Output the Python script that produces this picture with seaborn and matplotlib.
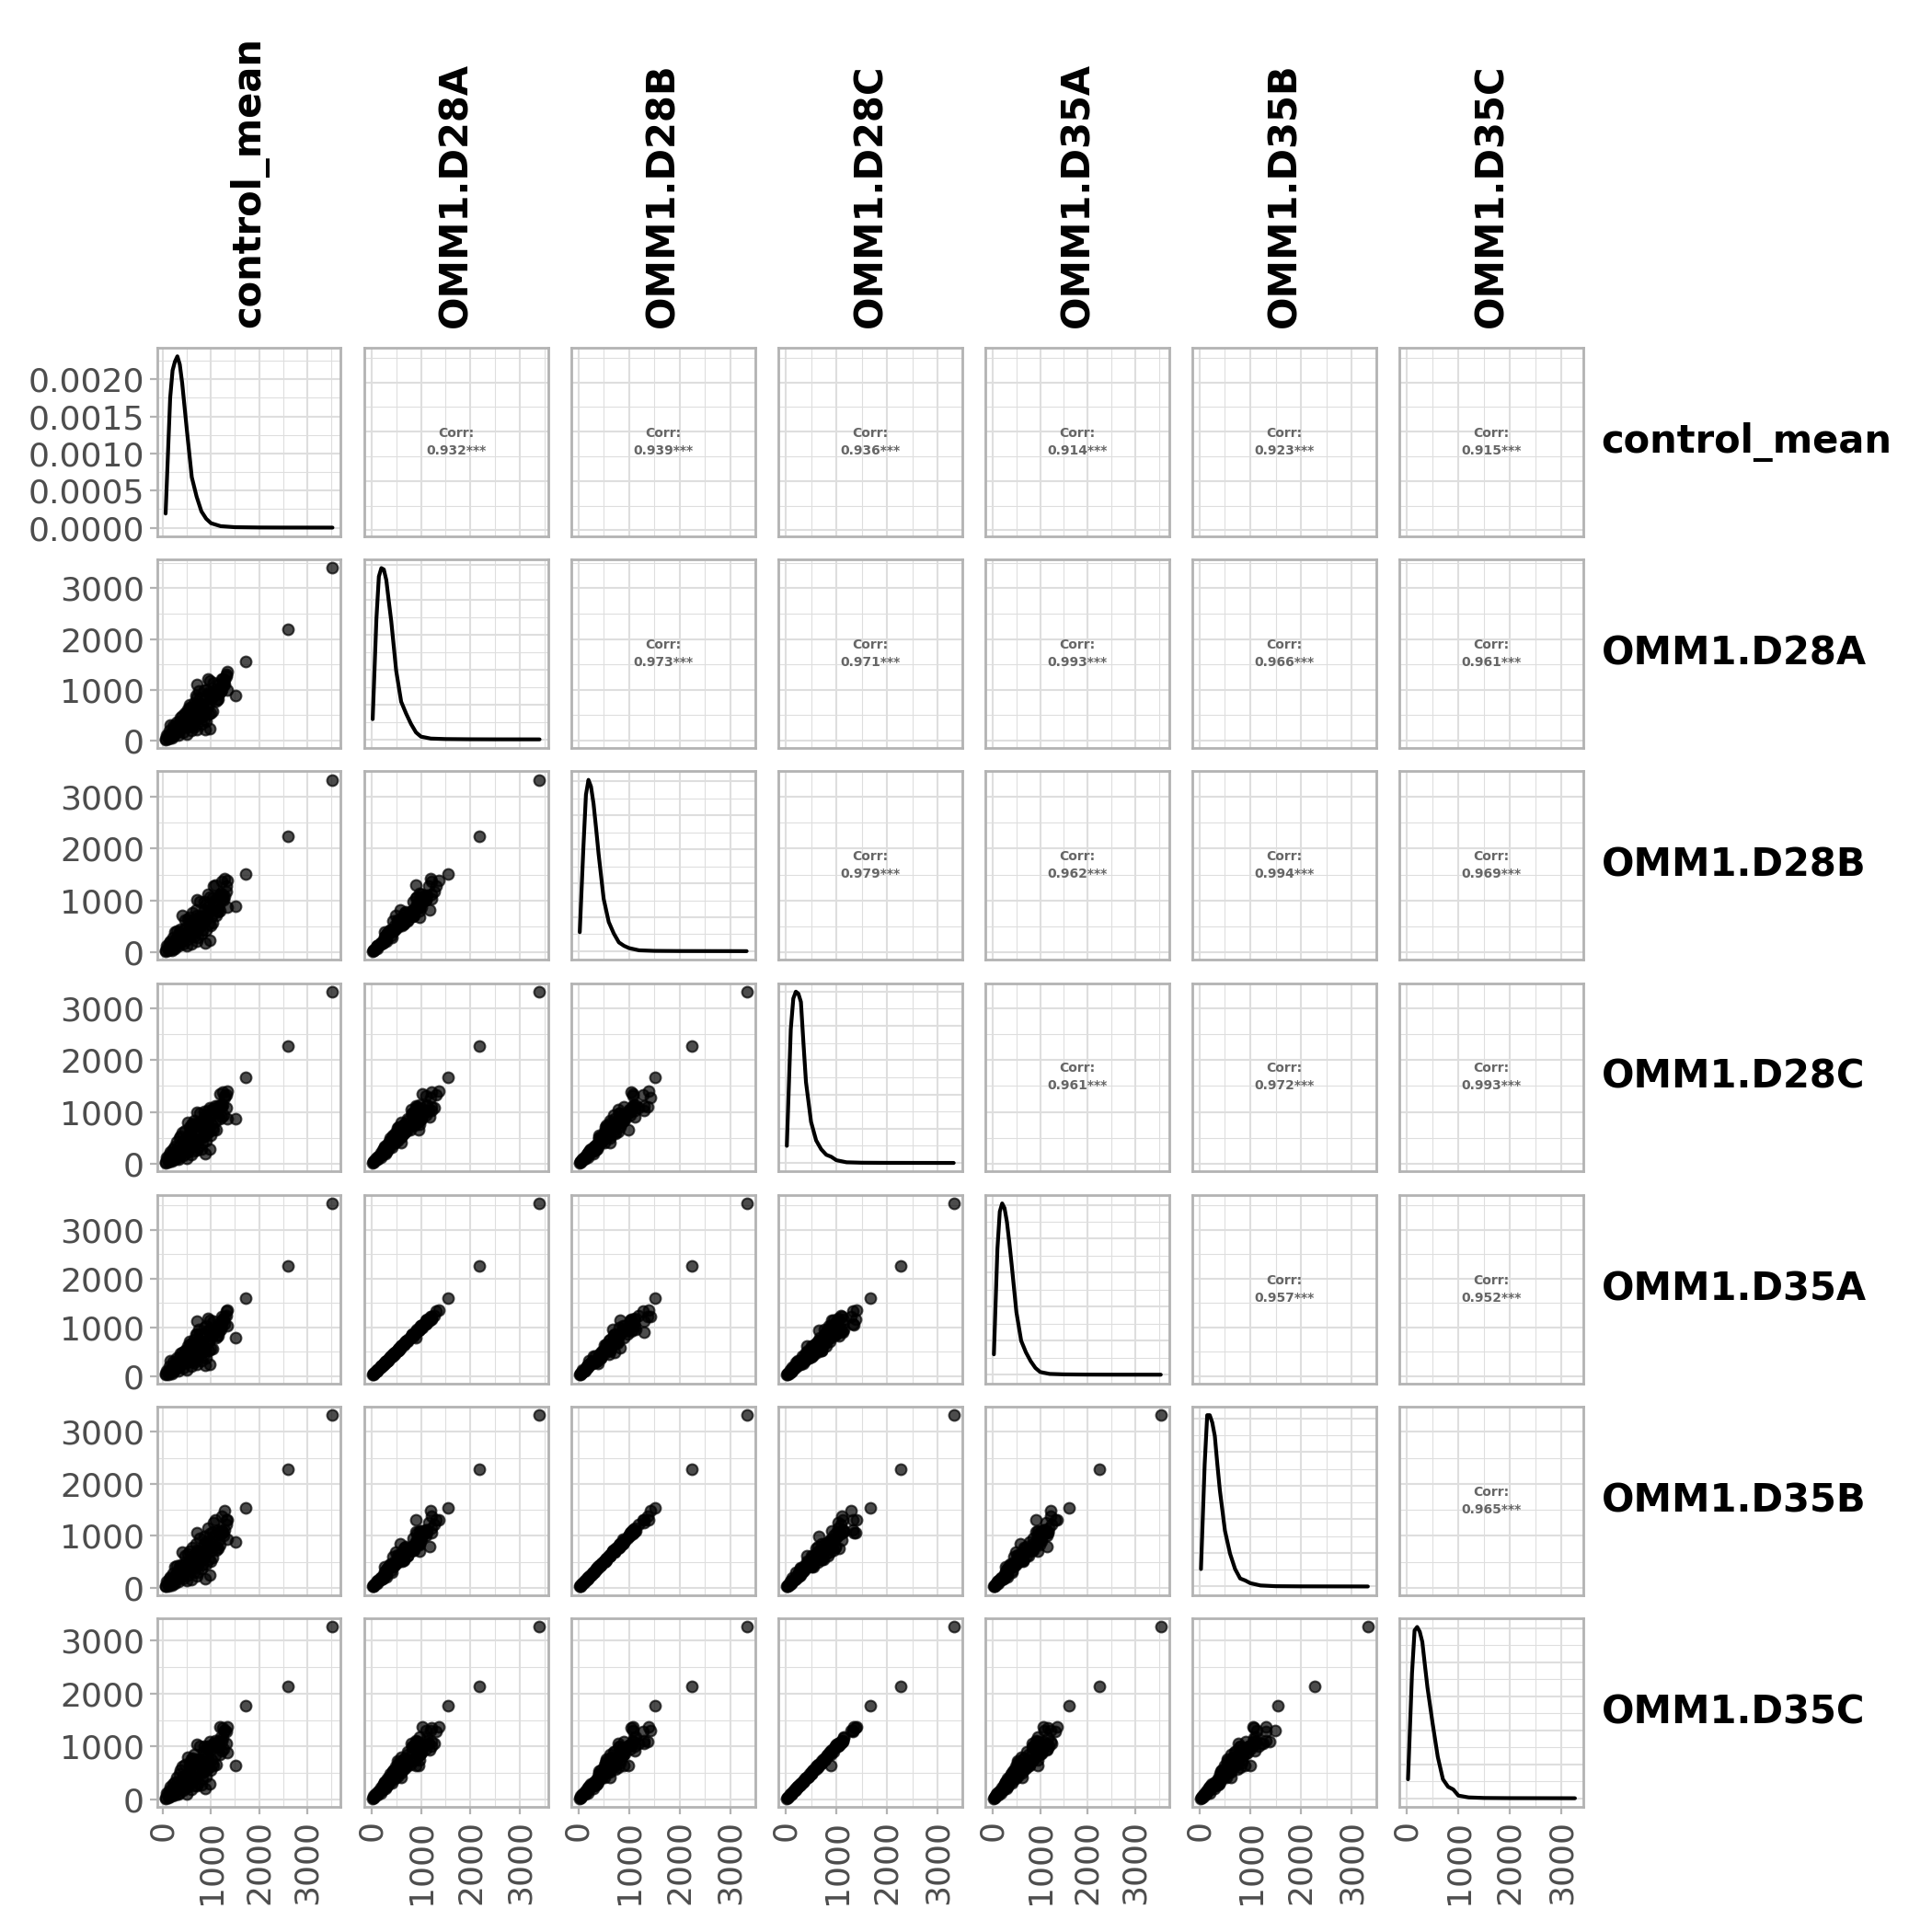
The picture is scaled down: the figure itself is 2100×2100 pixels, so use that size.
import numpy as np
import pandas as pd
import matplotlib
matplotlib.use('Agg')
import matplotlib.pyplot as plt
from matplotlib.ticker import MultipleLocator, FormatStrFormatter
import seaborn as sns

variables = ['control_mean', 'OMM1.D28A', 'OMM1.D28B', 'OMM1.D28C',
             'OMM1.D35A', 'OMM1.D35B', 'OMM1.D35C']

control_mean = [60, 70, 130, 140, 200, 210, 260, 280, 330, 350,
                370, 420, 440, 450, 500, 520, 540, 560, 600, 620,
                650, 680, 700, 720, 740, 760, 800, 820, 840, 860,
                880, 900, 920, 940, 980, 1000, 1020, 1040, 1060, 1100,
                1120, 1150, 1180, 1200, 1230, 1260, 1290, 1310,
                705, 610, 55, 930,
                100, 170, 240, 300, 390, 470, 580, 660, 760, 870,
                960, 1080, 1160, 1250, 390, 560, 640, 830, 1000, 1100,
                300, 480, 600, 900, 1040, 800, 560, 420, 1220, 1320,
                200, 120, 700, 980,
                150, 250, 350, 450, 550, 650, 750, 850, 950, 1050,
                1150, 1250, 250, 400, 520, 680, 780, 880, 980, 1080,
                1180, 330, 180, 600, 720, 860,
                3530, 2595, 1725, 1515, 1340, 1345, 1273]
d28a = [44, 108, 60, 205, 85, 290, 198, 360, 110, 302,
        451, 170, 396, 540, 120, 281, 423, 700, 198, 315,
        560, 886, 226, 460, 726, 837, 320, 605, 733, 1000,
        220, 378, 660, 950, 244, 540, 836, 900, 1150, 778,
        818, 1100, 968, 972, 1220, 1102, 1109, 1300,
        1100, 666, 25, 1210,
        94, 140, 264, 270, 330, 518, 526, 420, 616, 531,
        700, 950, 921, 1120, 242, 297, 280, 475, 827, 1020,
        220, 324, 460, 994, 583, 700, 660, 378, 1000, 1274,
        188, 40, 858, 918,
        305, 271, 380, 288, 425, 735, 976, 574, 532, 943,
        808, 1208, 122, 492, 608, 598, 544, 819, 1171, 902,
        1026, 184, 51, 651, 415, 426,
        3395, 2185, 1553, 890, 1000, 1362, 1203]
d28b = [37, 126, 67, 190, 83, 284, 166, 420, 123, 280,
        442, 167, 331, 630, 134, 260, 414, 686, 166, 368,
        627, 820, 221, 451, 607, 977, 358, 560, 718, 980,
        184, 441, 739, 880, 239, 529, 699, 1050, 1288, 720,
        800, 1078, 810, 1134, 1366, 1020, 1086, 1274,
        1020, 777, 28, 1120,
        92, 137, 221, 315, 370, 480, 515, 412, 515, 620,
        784, 880, 902, 1098, 202, 347, 314, 440, 810, 1000,
        184, 378, 515, 920, 570, 686, 552, 441, 1120, 1180,
        184, 39, 718, 1071,
        213, 389, 400, 300, 410, 630, 680, 826, 560, 984,
        779, 1035, 85, 708, 640, 624, 525, 702, 816, 1298,
        1080, 192, 49, 558, 289, 614,
        3321, 2245, 1513, 898, 873, 1387, 1420]
d28c = [40, 127, 54, 175, 101, 296, 180, 424, 99, 258,
        538, 173, 360, 636, 108, 239, 504, 714, 180, 371,
        504, 754, 269, 469, 660, 986, 288, 515, 874, 1020,
        200, 445, 594, 810, 291, 551, 760, 1060, 1035, 662,
        974, 1122, 880, 1145, 1098, 938, 1322, 1326,
        990, 784, 22, 1030,
        112, 143, 240, 318, 297, 442, 627, 428, 560, 625,
        630, 810, 1098, 1142, 220, 350, 252, 405, 986, 1040,
        200, 382, 414, 846, 694, 714, 600, 445, 900, 1086,
        224, 41, 780, 1081,
        238, 337, 500, 200, 550, 840, 760, 714, 700, 656,
        1045, 1380, 95, 612, 800, 416, 704, 936, 912, 1122,
        1350, 128, 66, 744, 323, 530,
        3315, 2275, 1670, 880, 880, 1400, 1280]
d35a = [45, 105, 61, 201, 85, 299, 192, 367, 108, 302,
        465, 165, 404, 529, 120, 289, 410, 714, 194, 315,
        577, 859, 231, 451, 726, 862, 310, 617, 718, 1000,
        227, 367, 673, 931, 244, 556, 811, 918, 1127, 778,
        843, 1067, 987, 953, 1220, 1135, 1076, 1326,
        1125, 666, 26, 1174,
        96, 137, 264, 278, 320, 528, 515, 420, 634, 515,
        714, 931, 921, 1154, 235, 303, 274, 475, 852, 989,
        224, 318, 460, 1024, 566, 714, 647, 378, 1030, 1236,
        192, 39, 858, 946,
        314, 263, 388, 282, 425, 757, 947, 585, 521, 943,
        832, 1172, 124, 482, 608, 616, 528, 835, 1148, 902,
        1057, 178, 52, 638, 415, 439,
        3540, 2255, 1605, 778, 1035, 1347, 1220]
d35b = [36, 130, 68, 184, 84, 278, 171, 428, 119, 283,
        433, 172, 338, 611, 135, 255, 426, 700, 161, 372,
        614, 845, 225, 437, 613, 957, 369, 571, 696, 990,
        180, 454, 754, 854, 241, 518, 720, 1071, 1249, 727,
        784, 1110, 826, 1100, 1380, 1000, 1119, 1299,
        1060, 785, 27, 1154,
        94, 133, 223, 309, 381, 490, 500, 416, 505, 639,
        800, 854, 911, 1076, 208, 354, 305, 444, 794, 1030,
        188, 367, 520, 902, 587, 700, 535, 445, 1098, 1215,
        188, 38, 725, 1050,
        209, 401, 408, 291, 414, 617, 700, 843, 543, 994,
        763, 1066, 87, 687, 646, 612, 541, 716, 792, 1311,
        1058, 198, 50, 541, 292, 602,
        3318, 2272, 1543, 883, 942, 1300, 1487]
d35c = [41, 124, 52, 180, 100, 302, 176, 411, 102, 255,
        549, 170, 349, 655, 107, 244, 494, 693, 185, 367,
        514, 739, 261, 483, 653, 1006, 282, 500, 900, 1010,
        204, 436, 576, 834, 288, 562, 745, 1028, 1066, 655,
        993, 1100, 854, 1179, 1087, 957, 1296, 1286,
        1051, 776, 23, 1009,
        109, 147, 238, 324, 291, 429, 646, 424, 571, 613,
        611, 834, 1087, 1165, 216, 340, 260, 401, 1006, 1019,
        194, 393, 410, 863, 680, 693, 618, 441, 918, 1064,
        217, 42, 772, 1103,
        243, 330, 485, 206, 545, 857, 745, 693, 721, 649,
        1066, 1352, 92, 630, 792, 424, 690, 908, 939, 1111,
        1377, 125, 64, 766, 320, 541,
        3261, 2134, 1777, 650, 892, 1369, 1300]

# density curves on the diagonal: inner grid, ends are each variable's min / max
dens_grid = [100, 150, 200, 250, 300, 350, 400, 500, 600, 700,
             800, 900, 1000, 1200, 1500, 2000, 2500, 3000]
dens_control = [0.19, 0.93, 1.75, 2.12, 2.24, 2.31, 2.20, 1.95, 1.30, 0.68,
                0.42, 0.22, 0.12, 0.06, 0.02, 0.006, 0.002, 0.001, 0.0008, 0.0005]
dens_d28a = [0.29, 1.72, 2.33, 2.45, 2.43, 2.28, 1.98, 1.69, 0.98, 0.54,
             0.37, 0.22, 0.10, 0.04, 0.012, 0.005, 0.002, 0.001, 0.0008, 0.0005]
dens_d28b = [0.28, 1.53, 2.30, 2.52, 2.42, 2.17, 1.81, 1.43, 0.77, 0.43,
             0.26, 0.13, 0.08, 0.046, 0.013, 0.005, 0.0025, 0.002, 0.0015, 0.001]
dens_d28c = [0.25, 1.95, 2.40, 2.50, 2.47, 2.35, 1.75, 1.18, 0.60, 0.33,
             0.20, 0.12, 0.09, 0.04, 0.01, 0.004, 0.002, 0.0015, 0.001, 0.0008]
dens_d35a = [0.30, 1.85, 2.40, 2.52, 2.45, 2.25, 1.95, 1.62, 0.92, 0.50,
             0.33, 0.20, 0.10, 0.04, 0.012, 0.005, 0.002, 0.001, 0.0008, 0.0005]
dens_d35b = [0.26, 1.82, 2.55, 2.55, 2.44, 2.24, 1.82, 1.43, 0.83, 0.49,
             0.26, 0.12, 0.09, 0.05, 0.016, 0.005, 0.0025, 0.002, 0.0015, 0.001]
dens_d35c = [0.28, 1.84, 2.47, 2.52, 2.45, 2.30, 1.96, 1.63, 1.10, 0.61,
             0.28, 0.17, 0.13, 0.04, 0.013, 0.005, 0.0025, 0.002, 0.0015, 0.001]

# correlations shown in the upper triangle, row by row
corr_vals = [
    [0.932, 0.939, 0.936, 0.914, 0.923, 0.915],
    [0.973, 0.971, 0.993, 0.966, 0.961],
    [0.979, 0.962, 0.994, 0.969],
    [0.961, 0.972, 0.993],
    [0.957, 0.952],
    [0.965],
]

df = pd.DataFrame({
    'control_mean': control_mean, 'OMM1.D28A': d28a, 'OMM1.D28B': d28b,
    'OMM1.D28C': d28c, 'OMM1.D35A': d35a, 'OMM1.D35B': d35b, 'OMM1.D35C': d35c,
})
dens_vals = dict(zip(variables, [dens_control, dens_d28a, dens_d28b, dens_d28c,
                                 dens_d35a, dens_d35b, dens_d35c]))

sns.set_theme(style='white')
plt.rcParams['font.family'] = ['DejaVu Sans']

GRID = '#DEDEDE'
BORDER = '#B3B3B3'
TXT = '#4D4D4D'

lims = {}
for v in variables:
    lo, hi = df[v].min(), df[v].max()
    pad = 0.05 * (hi - lo)
    lims[v] = (lo - pad, hi + pad)

fig, axes = plt.subplots(7, 7, figsize=(21, 21), dpi=100)
fig.subplots_adjust(left=0.0814, right=0.8195, top=0.82, bottom=0.0648,
                    wspace=0.128, hspace=0.124)

n = len(variables)
for i, vy in enumerate(variables):
    for j, vx in enumerate(variables):
        ax = axes[i, j]
        ax.set_axisbelow(True)
        if i == j:
            dx = [df[vx].min()] + dens_grid + [df[vx].max()]
            dy = np.array(dens_vals[vx]) * 1e-3
            sns.lineplot(x=dx, y=dy, ax=ax, color='black', linewidth=3.0,
                         estimator=None, sort=False)
            pad = 0.05 * (dy.max() - dy.min())
            ax.set_ylim(dy.min() - pad, dy.max() + pad)
            ax.yaxis.set_major_locator(MultipleLocator(0.0005))
            ax.yaxis.set_minor_locator(MultipleLocator(0.00025))
            ax.yaxis.set_major_formatter(FormatStrFormatter('%.4f'))
        elif i > j:
            sns.scatterplot(data=df, x=vx, y=vy, ax=ax, color='black', alpha=0.7,
                            s=72, edgecolor='black', linewidth=1.5)
            ax.set_ylim(lims[vy])
            ax.yaxis.set_major_locator(MultipleLocator(1000))
            ax.yaxis.set_minor_locator(MultipleLocator(500))
        else:
            ax.set_ylim(lims[vy])
            ax.yaxis.set_major_locator(MultipleLocator(1000))
            ax.yaxis.set_minor_locator(MultipleLocator(500))
            r = corr_vals[i][j - i - 1]
            ax.text(0.5, 0.5, f'Corr:\n{r:.3f}***', transform=ax.transAxes,
                    ha='center', va='center', multialignment='center',
                    fontsize=10, fontweight='bold', color='#666666', linespacing=1.45)

        ax.set_xlim(lims[vx])
        ax.xaxis.set_major_locator(MultipleLocator(1000))
        ax.xaxis.set_minor_locator(MultipleLocator(500))
        ax.set_xlabel('')
        ax.set_ylabel('')

        ax.grid(which='major', color=GRID, linewidth=1.5)
        ax.grid(which='minor', color=GRID, linewidth=0.8)
        for s in ax.spines.values():
            s.set_color(BORDER)
            s.set_linewidth(2)

        ax.tick_params(which='minor', length=0)
        ax.tick_params(which='major', color=BORDER, width=1.6, length=6,
                       labelsize=26, labelcolor=TXT, pad=4,
                       bottom=(i == n - 1), labelbottom=(i == n - 1),
                       left=(j == 0), labelleft=(j == 0),
                       top=False, right=False)
        if i == n - 1:
            ax.tick_params(axis='x', labelrotation=90)

# strip labels along the top and the right side
for j, v in enumerate(variables):
    axes[0, j].annotate(v, xy=(0.5, 1), xycoords='axes fraction', xytext=(0, 16),
                        textcoords='offset points', rotation=90, ha='center', va='bottom',
                        fontsize=30, fontweight='bold', color='black')
for i, v in enumerate(variables):
    axes[i, n - 1].annotate(v, xy=(1, 0.5), xycoords='axes fraction', xytext=(14, 0),
                            textcoords='offset points', ha='left', va='center',
                            fontsize=30, fontweight='bold', color='black')

fig.savefig('out.png', dpi=100)
